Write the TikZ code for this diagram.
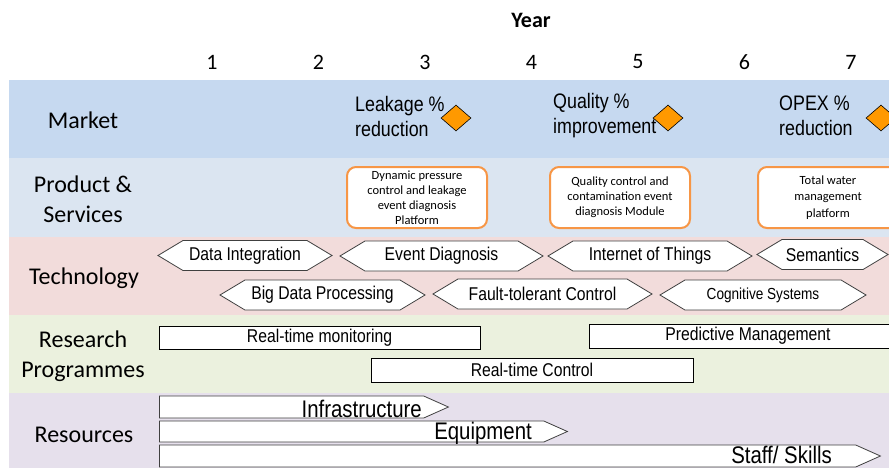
\documentclass[tikz,border=0pt]{standalone}
\usepackage{fontspec}
\setmainfont{Carlito}
\newfontfamily\arialn{Liberation Sans}[FakeStretch=0.85]
\usepackage{tikz}
\usetikzlibrary{positioning}
\usetikzlibrary{shapes}

\definecolor{marketbg}{RGB}{198,217,240}
\definecolor{productbg}{RGB}{219,229,241}
\definecolor{techbg}{RGB}{242,220,219}
\definecolor{researchbg}{RGB}{235,241,222}
\definecolor{resourcebg}{RGB}{230,224,236}
\definecolor{boxorange}{RGB}{247,150,70}
\definecolor{markorange}{RGB}{255,153,0}

\begin{document}
\begin{tikzpicture}[x=1pt, y=-1pt,
    rowlabel/.style={align=center, font=\fontsize{24}{29.5}\selectfont},
    goal/.style={align=left, inner sep=0pt, font=\arialn\fontsize{21}{25}\selectfont},
    milestone/.style={diamond, draw=black, fill=markorange, line width=0.6pt, minimum width=30pt, minimum height=26pt, inner sep=0pt},
    prodbox/.style={draw=boxorange, line width=2pt, rounded corners=9pt, fill=white, minimum width=140pt, minimum height=61pt, inner sep=0pt, align=center, font=\fontsize{12.5}{15}\selectfont},
    techhex/.style={shape=signal, signal to=west and east, signal pointer angle=62, draw=black!75, line width=0.8pt, fill=white, minimum height=30pt, inner sep=0pt, font=\arialn\fontsize{18.5}{20}\selectfont},
    progbox/.style={draw=black, line width=0.7pt, fill=white, inner sep=0pt, font=\arialn\fontsize{18.5}{20}\selectfont},
    resarrow/.style={shape=signal, signal to=east, signal pointer angle=48, draw=black!75, line width=0.8pt, fill=white, inner sep=0pt, anchor=west},
    restext/.style={inner sep=0pt, font=\arialn\fontsize{24}{26}\selectfont}]
    \useasboundingbox (0,0) rectangle (889,467);
    \clip (0,0) rectangle (889,467);
    % bands %
    \fill[marketbg] (9,80) rectangle (900,158);
    \fill[productbg] (9,158) rectangle (900,237);
    \fill[techbg] (9,237) rectangle (900,315);
    \fill[researchbg] (9,315) rectangle (900,393);
    \fill[resourcebg] (9,393) rectangle (900,470);
    % years %
    \node[font=\bfseries\fontsize{22}{24}\selectfont] (year) at (531,20) {Year};
    \foreach \n in {1,...,7}
        \node[font=\fontsize{22}{24}\selectfont] (yr\n) at ({212+106.5*(\n-1)},62) {\n};
    % row labels %
    \node[rowlabel] (market) at (83,120) {Market};
    \node[rowlabel] (product) at (83,199) {Product \&\\Services};
    \node[rowlabel] (tech) at (84,278) {Technology};
    \node[rowlabel] (research) at (83,356) {Research\\Programmes};
    \node[rowlabel] (resources) at (84,435) {Resources};
    % market %
    \node[goal, anchor=west] (leakage) at (355,116) {Leakage \%\\reduction};
    \node[milestone] (leakagemark) at (456,118) {};
    \node[goal, anchor=west] (quality) at (553,116) {Quality \%\\improvement};
    \node[milestone] (qualitymark) at (668,118) {};
    \node[goal, anchor=west] (opex) at (779,116) {OPEX \%\\reduction};
    \node[milestone] (opexmark) at (881,118) {};
    % products %
    \node[prodbox] (dynamic) at (417,197.5) {Dynamic pressure\\control and leakage\\event diagnosis\\Platform};
    \node[prodbox] (qualitymod) at (620,197.5) {Quality control and\\contamination event\\diagnosis Module};
    \node[prodbox, font=\fontsize{12.5}{16.5}\selectfont] (totalwater) at (828,197.5) {Total water\\management\\platform};
    % technology %
    \node[techhex, minimum width=174pt] (dataint) at (245,255.5) {Data Integration};
    \node[techhex, minimum width=203pt] (eventdiag) at (441.5,256) {Event Diagnosis};
    \node[techhex, minimum width=204pt] (iot) at (650,256) {Internet of Things};
    \node[techhex, minimum width=131pt] (semantics) at (822.5,254.5) {Semantics};
    \node[techhex, minimum width=205pt] (bigdata) at (322.5,295) {Big Data Processing};
    \node[techhex, minimum width=219pt] (faulttol) at (542.5,294) {Fault-tolerant Control};
    \node[techhex, minimum width=206pt, font=\arialn\fontsize{16}{18}\selectfont] (cognitive) at (763,295) {Cognitive Systems};
    % research %
    \node[progbox, minimum width=321pt, minimum height=23pt] (rtmon) at (319.5,337.5) {Real-time monitoring};
    \node[progbox, minimum width=318pt, minimum height=24pt] (predict) at (748,336) {Predictive Management};
    \node[progbox, minimum width=322pt, minimum height=24pt] (rtctrl) at (532,370) {Real-time Control};
    % resources %
    \node[resarrow, minimum width=289pt, minimum height=22pt] (infra) at (159,407) {};
    \node[restext, anchor=base east] (infralabel) at (422,417) {Infrastructure};
    \node[resarrow, minimum width=408pt, minimum height=21pt] (equip) at (159,431.5) {};
    \node[restext, anchor=base east] (equiplabel) at (532,439) {Equipment};
    \node[resarrow, minimum width=721pt, minimum height=22pt] (staff) at (159,456) {};
    \node[restext, anchor=base east] (stafflabel) at (832,463) {Staff/ Skills};
\end{tikzpicture}
\end{document}
